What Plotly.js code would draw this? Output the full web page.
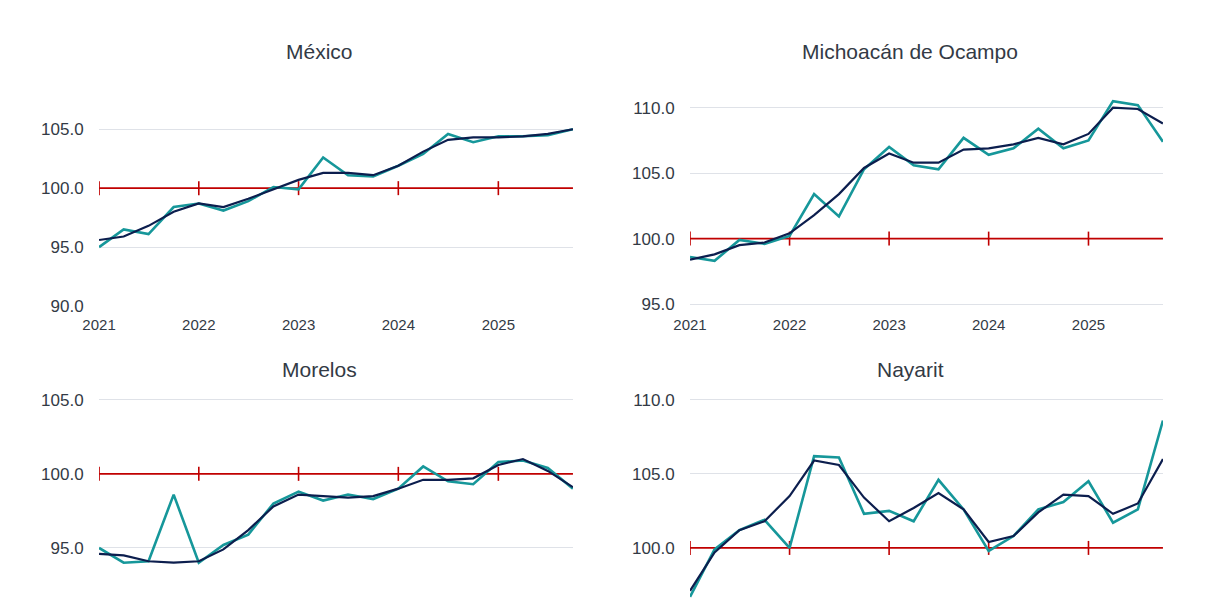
<!DOCTYPE html>
<html>
<head>
<meta charset="utf-8">
<script src="https://cdn.plot.ly/plotly-3.0.1.min.js"></script>
<style>
  html, body { margin: 0; padding: 0; background: #fff; }
  #chart { width: 1208px; height: 599px; }
</style>
</head>
<body>
<div id="chart"></div>
<script>
// quarterly periods 2021Q1 .. 2025Q4
const quarters = [
  '2021-01-01','2021-04-01','2021-07-01','2021-10-01',
  '2022-01-01','2022-04-01','2022-07-01','2022-10-01',
  '2023-01-01','2023-04-01','2023-07-01','2023-10-01',
  '2024-01-01','2024-04-01','2024-07-01','2024-10-01',
  '2025-01-01','2025-04-01','2025-07-01','2025-10-01'
];
const yearTicks = ['2021-01-01','2022-01-01','2023-01-01','2024-01-01','2025-01-01'];
const yearLabels = ['2021','2022','2023','2024','2025'];
const states = ['México', 'Michoacán de Ocampo', 'Morelos', 'Nayarit'];
const baseLevel = 100;

// original series (teal) and trend (navy)
const mexicoSerie = [95.0, 96.5, 96.1, 98.4, 98.7, 98.1, 98.9, 100.1, 99.9, 102.6,
                     101.1, 101.0, 101.9, 102.9, 104.6, 103.9, 104.4, 104.4, 104.5, 105.0];
const mexicoTrend = [95.6, 95.9, 96.8, 98.0, 98.7, 98.4, 99.1, 99.9, 100.7, 101.3,
                     101.3, 101.1, 101.9, 103.1, 104.1, 104.3, 104.3, 104.4, 104.6, 105.0];

const michoacanSerie = [98.6, 98.3, 99.9, 99.6, 100.2, 103.4, 101.7, 105.3, 107.0, 105.6,
                        105.3, 107.7, 106.4, 106.9, 108.4, 106.9, 107.5, 110.5, 110.2, 107.4];
const michoacanTrend = [98.4, 98.8, 99.5, 99.7, 100.4, 101.8, 103.4, 105.4, 106.5, 105.8,
                        105.8, 106.8, 106.9, 107.2, 107.7, 107.2, 108.0, 110.0, 109.9, 108.8];

const morelosSerie = [95.0, 94.0, 94.1, 98.6, 94.0, 95.2, 95.9, 98.0, 98.8, 98.2,
                      98.6, 98.3, 99.0, 100.5, 99.5, 99.3, 100.8, 100.9, 100.4, 99.0];
const morelosTrend = [94.6, 94.5, 94.1, 94.0, 94.1, 94.9, 96.2, 97.8, 98.6, 98.5,
                      98.4, 98.5, 99.0, 99.6, 99.6, 99.7, 100.6, 101.0, 100.2, 99.1];

const nayaritSerie = [96.7, 99.9, 101.2, 101.9, 100.0, 106.2, 106.1, 102.3, 102.5, 101.8,
                      104.6, 102.6, 99.8, 100.8, 102.6, 103.1, 104.5, 101.7, 102.6, 108.6];
const nayaritTrend = [97.1, 99.7, 101.2, 101.8, 103.5, 105.9, 105.6, 103.4, 101.8, 102.7,
                      103.7, 102.6, 100.4, 100.8, 102.4, 103.6, 103.5, 102.3, 103.0, 106.0];

const serieColor = '#16979a';
const trendColor = '#0c1e4e';
const baseColor = '#c00000';
const textColor = '#333a45';

const panels = [
  { name: states[0], serie: mexicoSerie,    trend: mexicoTrend,    range: [90, 109.6],    x: [0.0820, 0.4743], y: [0.4891, 0.8748], tx: 319, showX: true },
  { name: states[1], serie: michoacanSerie, trend: michoacanTrend, range: [94.85, 112.5], x: [0.5712, 0.9627], y: [0.4891, 0.8748], tx: 910, showX: true },
  { name: states[2], serie: morelosSerie,   trend: morelosTrend,   range: [91.55, 105.8], x: [0.0820, 0.4743], y: [0.0, 0.3523],    tx: 319, showX: false },
  { name: states[3], serie: nayaritSerie,   trend: nayaritTrend,   range: [96.55, 110.8], x: [0.5712, 0.9627], y: [0.0, 0.3523],    tx: 910, showX: false }
];

const traces = [];
const layout = {
  width: 1208, height: 599,
  margin: { l: 0, r: 0, t: 0, b: 0 },
  paper_bgcolor: '#fff', plot_bgcolor: '#fff',
  showlegend: false,
  font: { family: 'Liberation Sans, Arial, sans-serif', color: textColor },
  annotations: []
};

panels.forEach(function (p, i) {
  const n = i + 1;
  const xa = n === 1 ? 'x' : 'x' + n;
  const ya = n === 1 ? 'y' : 'y' + n;
  const baseline = quarters.map(function () { return baseLevel; });
  const tickBase = yearTicks.map(function () { return baseLevel; });

  traces.push({ type: 'scatter', mode: 'lines', x: quarters, y: baseline, xaxis: xa, yaxis: ya,
    line: { color: baseColor, width: 1.6 }, hoverinfo: 'skip' });
  traces.push({ type: 'scatter', mode: 'markers', x: yearTicks, y: tickBase, xaxis: xa, yaxis: ya,
    marker: { symbol: 'line-ns-open', size: 10, color: baseColor, line: { color: baseColor, width: 1.6 } },
    hoverinfo: 'skip' });
  traces.push({ type: 'scatter', mode: 'lines', name: 'Serie', x: quarters, y: p.serie, xaxis: xa, yaxis: ya,
    line: { color: serieColor, width: 2.6 } });
  traces.push({ type: 'scatter', mode: 'lines', name: 'Tendencia', x: quarters, y: p.trend, xaxis: xa, yaxis: ya,
    line: { color: trendColor, width: 2.2 } });

  layout['xaxis' + (n === 1 ? '' : n)] = {
    domain: p.x, anchor: ya, type: 'date',
    range: [quarters[0], quarters[quarters.length - 1]],
    tickvals: yearTicks, ticktext: yearLabels,
    showticklabels: p.showX, showgrid: false, zeroline: false, showline: false,
    ticks: 'outside', ticklen: 5, tickcolor: 'rgba(0,0,0,0)',
    tickfont: { size: 15, color: textColor }
  };
  layout['yaxis' + (n === 1 ? '' : n)] = {
    domain: p.y, anchor: xa, range: p.range,
    dtick: 5, tick0: 0, tickformat: '.1f',
    showgrid: true, gridcolor: '#dfe2e8', gridwidth: 1,
    zeroline: false, showline: false,
    ticks: 'outside', ticklen: 11, tickcolor: 'rgba(0,0,0,0)',
    tickfont: { size: 17, color: textColor }
  };
  const titleY = i < 2 ? 1 - 52 / 599 : 1 - 369 / 599;
  layout.annotations.push({
    text: p.name, xref: 'paper', yref: 'paper',
    x: p.tx / 1208, y: titleY, xanchor: 'center', yanchor: 'middle',
    showarrow: false, font: { size: 21, color: textColor }
  });
});

Plotly.newPlot('chart', traces, layout, { displayModeBar: false, staticPlot: true });
</script>
</body>
</html>
